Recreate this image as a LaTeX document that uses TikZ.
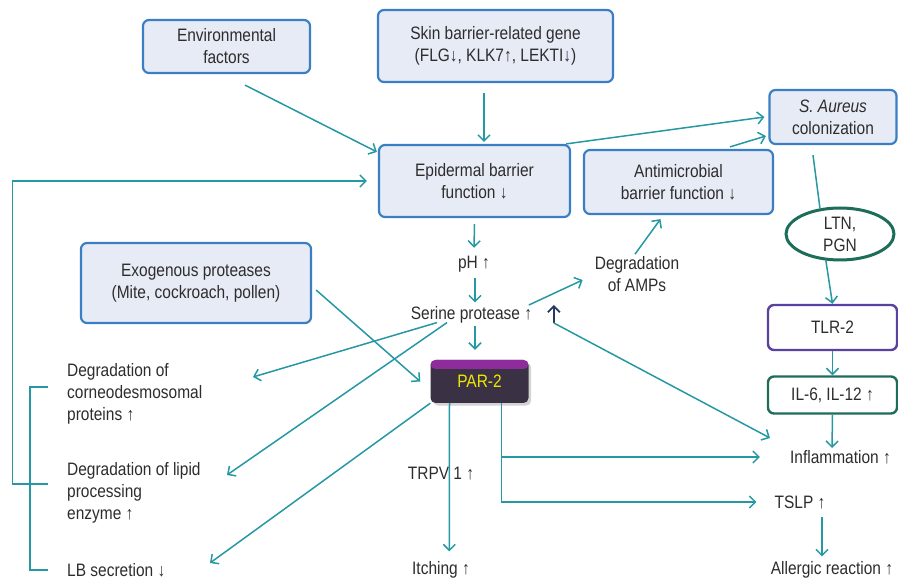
\documentclass[tikz,border=0pt]{standalone}
\usepackage{fontspec}
\setmainfont{Liberation Sans}[FakeStretch=0.86]
\usetikzlibrary{positioning}
\usetikzlibrary{calc}
\usetikzlibrary{arrows.meta}
\usetikzlibrary{shapes.geometric}
\usetikzlibrary{shadows}
\definecolor{ln}{RGB}{38,152,163}
\definecolor{boxln}{RGB}{58,126,196}
\definecolor{boxbg}{RGB}{231,235,246}
\definecolor{txt}{RGB}{45,45,45}
\definecolor{grn}{RGB}{30,108,90}
\definecolor{prp}{RGB}{90,64,160}
\definecolor{pardark}{RGB}{58,50,68}
\definecolor{parband}{RGB}{142,44,156}
\definecolor{parylw}{RGB}{240,232,0}
\definecolor{navy}{RGB}{40,56,100}
\tikzset{>={Straight Barb[length=6pt,width=12pt]}}
\tikzset{box/.style={draw=boxln, line width=2.2pt, fill=boxbg, rounded corners=6pt, align=center, text=txt}}
\tikzset{lbl/.style={inner sep=2pt, text=txt, align=center}}
\tikzset{ar/.style={->, draw=ln, line width=1.5pt}}
\tikzset{brk/.style={draw=ln, line width=1.5pt}}

\begin{document}
\begin{tikzpicture}[x=1pt, y=-1pt, font=\fontsize{18}{22}\selectfont]
\useasboundingbox (0,0) rectangle (898,580);
\begin{scope}[on grid]
\node[box, minimum width=167pt, minimum height=53pt] (env) at (226.5, 46.5) {Environmental\\factors};
\node[box, minimum width=235pt, minimum height=72pt] (gene) at (495.5, 46) {Skin barrier-related gene\\(FLG↓, KLK7↑, LEKTI↓)};
\node[box, minimum width=191pt, minimum height=72pt] (epi) at (474.5, 181) {Epidermal barrier\\function ↓};
\node[box, minimum width=189pt, minimum height=64pt] (amb) at (678.5, 182) {Antimicrobial\\barrier function ↓};
\node[box, minimum width=127pt, minimum height=54pt] (aur) at (833, 117) {{\itshape S. Aureus}\\colonization};
\node[box, minimum width=230pt, minimum height=80pt] (exo) at (196, 283) {Exogenous proteases\\(Mite, cockroach, pollen)};

\node[lbl, ellipse, draw=grn, line width=3pt, fill=white, minimum width=108pt, minimum height=52pt, inner sep=0pt] (ltn) at (840, 234) {LTN,\\PGN};
\node[lbl, draw=prp, line width=2.4pt, rounded corners=6pt, minimum width=129pt, minimum height=45pt] (tlr) at (832.5, 327.5) {TLR-2};
\node[lbl, draw=grn, line width=2.4pt, rounded corners=6pt, minimum width=129pt, minimum height=37pt] (il) [below = 67.5pt of tlr] {IL-6, IL-12 ↑};

\node[fill=pardark, rounded corners=5pt, minimum width=98pt, minimum height=43pt, text=parylw, drop shadow={opacity=0.35},
  path picture={\fill[parband] (path picture bounding box.north west) rectangle ([yshift=-9pt]path picture bounding box.north east);}] (par) at (479.5, 381.5) {PAR-2};

\node[lbl] (ph) at (474, 264) {pH ↑};
\node[lbl] (ser) at (471.5, 315) {Serine protease ↑};
\node[lbl] (amp) at (637, 274) {Degradation\\of AMPs};
\node[lbl, anchor=west, align=left] (cor) at (65, 394) {Degradation of\\corneodesmosomal\\proteins ↑};
\node[lbl, anchor=west, align=left] (lip) at (65, 493) {Degradation of lipid\\processing\\enzyme ↑};
\node[lbl, anchor=west] (lb) at (65, 570) {LB secretion ↓};
\node[lbl] (trp) at (441, 474) {TRPV 1 ↑};
\node[lbl] (itc) at (441, 570) {Itching ↑};
\node[lbl] (inf) at (840.5, 457) {Inflammation ↑};
\node[lbl] (tsl) at (800, 502) {TSLP ↑};
\node[lbl] (all) at (832, 570) {Allergic reaction ↑};
\end{scope}

\draw[ar] ([xshift=18.5pt,yshift=-11pt]env.south) -- ([xshift=-1pt,yshift=-8pt]epi.north west);
\draw[ar] ([xshift=-11.5pt,yshift=-10pt]gene.south) -- ([xshift=9.5pt,yshift=2pt]epi.north);
\draw[ar] ([xshift=-5pt]epi.north east) -- ([xshift=-4pt]aur.west);
\draw[ar] ([xshift=51.5pt,yshift=2pt]amb.north) -- ([xshift=-2.5pt,yshift=-19pt]aur.west);
\draw[brk] ([xshift=-20pt,yshift=-10pt]aur.south) -- (ltn.128);
\draw[ar] (ltn.242) -- (tlr.north);
\draw[ar] (tlr.south) -- (il.north);
\draw[ar] (il.south) -- ([xshift=-8.5pt]inf.north);

\draw[ar] ([yshift=-6pt]epi.south) -- ([yshift=6pt]ph.north);
\draw[ar] ([xshift=1pt,yshift=-4pt]ph.south) -- ([xshift=3.5pt,yshift=2pt]ser.north);
\draw[ar] ([xshift=3.5pt]ser.south) -- ([xshift=-4.5pt,yshift=10pt]par.north);
\draw[ar] ([xshift=-5.5pt,yshift=10pt]ser.east) -- ([xshift=-10pt,yshift=-6pt]amp.west);
\draw[ar] ([xshift=-2pt]amp.north) -- ([xshift=-18pt,yshift=-4pt]amb.south);
\draw[ar] ([xshift=4pt,yshift=-7pt]exo.east) -- ([xshift=-10pt]par.west);

\draw[ar] ([xshift=-34.5pt,yshift=3pt]ser.south) -- ([xshift=188pt,yshift=17pt]cor.west);
\draw[ar] ([xshift=-24.5pt,yshift=3pt]ser.south) -- ([xshift=162pt,yshift=18pt]lip.west);
\draw[ar] (par.south west) -- ([xshift=145pt,yshift=7pt]lb.west);

\draw[ar, draw=navy, line width=1.8pt] ([xshift=19.5pt,yshift=-8pt]ser.east) -- ([xshift=19.5pt,yshift=10pt]ser.east);
\draw[ar] ([xshift=19.5pt,yshift=-8pt]ser.east) -- ([xshift=-18pt,yshift=19pt]inf.west);

\draw[ar] ([xshift=-30pt]par.south) -- ([xshift=8.3pt,yshift=8pt]itc.north);
\coordinate (parr) at ([xshift=22pt]par.south);
\draw[ar] (parr) |- ([xshift=-16pt]tsl.west);
\draw[ar] (parr |- inf.west) -- ([xshift=-28pt]inf.west);
\draw[ar] ([xshift=22pt,yshift=-6pt]tsl.south) -- ([xshift=-10pt,yshift=3pt]all.north);

\draw[brk] ([xshift=-17pt,yshift=7pt]cor.west) -| ([xshift=-35pt]lb.west) -- ([xshift=-17pt]lb.west);
\draw[ar] ([xshift=-17pt,yshift=9pt]lip.west) -- ([xshift=-52.5pt,yshift=9pt]lip.west) |- ([xshift=-11pt]epi.west);
\end{tikzpicture}
\end{document}
